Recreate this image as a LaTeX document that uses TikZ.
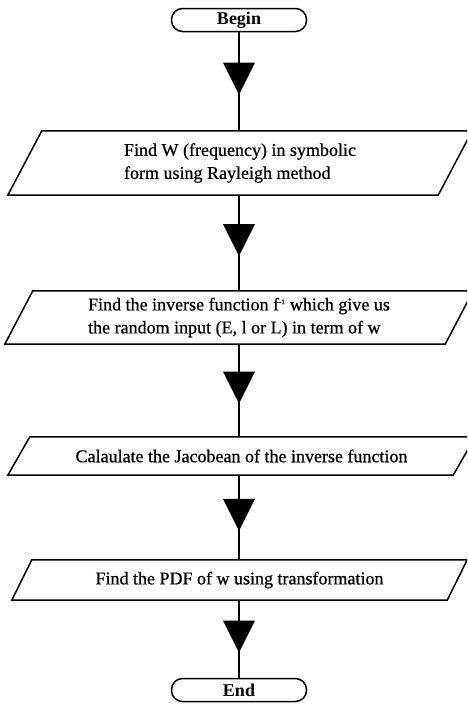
\documentclass[tikz,border=0pt]{standalone}
\usepackage{fontspec}
\setmainfont{Liberation Serif}
\newfontfamily\heavyserif[FakeBold=0.7]{Liberation Serif}
\usetikzlibrary{calc,decorations.markings}
\newcommand\drawpara[2]{\draw[edge] ($(#1.south west)+(-#2/2,0)$) -- ($(#1.south east)+(-#2/2,0)$) -- ($(#1.north east)+(#2/2,0)$) -- ($(#1.north west)+(#2/2,0)$) -- cycle;}
\begin{document}
\begin{tikzpicture}[x=1pt,y=-1pt,
  edge/.style={line width=1.5pt, line join=miter},
  term/.style={draw, line width=1.5pt, rounded corners=11pt, minimum width=135pt, minimum height=23pt, inner sep=0pt, font=\fontsize{18}{20}\selectfont\bfseries},
  pnode/.style={inner sep=0pt, align=left, font=\heavyserif\fontsize{18}{23}\selectfont},
  midarrow/.style={postaction={decorate}, decoration={markings, mark=at position 0.47 with {\fill (16pt,0) -- (-16pt,16pt) -- (-16pt,-16pt) -- cycle;}}},
  flow/.style={line width=1.5pt, midarrow}]
\clip (0,0) rectangle (467,710);
\fill[white] (0,0) rectangle (467,710);
\node[term] (begin) at (239,20) {Begin};
\node[pnode, minimum width=430pt, minimum height=64pt] (p1) at (240,163) {Find W (frequency) in symbolic\\form using Rayleigh method};
\node[pnode, minimum width=440pt, minimum height=53pt] (p2) at (239,317.5) {Find the inverse function f\textsuperscript{\fontsize{7}{7}\selectfont -1} which give us\\the random input (E, l or L) in term of w};
\node[pnode, minimum width=445pt, minimum height=38pt] (p3) at (241.5,456) {Calaulate the Jacobean of the inverse function};
\node[pnode, minimum width=435pt, minimum height=40pt] (p4) at (239.5,580) {Find the PDF of w using transformation};
\node[term] (end) at (239,690) {End};
\drawpara{p1}{34}
\drawpara{p2}{28}
\drawpara{p3}{22}
\drawpara{p4}{20}
\draw[flow] (begin.south) -- (begin.south |- p1.north);
\draw[flow] (begin.south |- p1.south) -- (begin.south |- p2.north);
\draw[flow] (begin.south |- p2.south) -- (begin.south |- p3.north);
\draw[flow] (begin.south |- p3.south) -- (begin.south |- p4.north);
\draw[flow] (begin.south |- p4.south) -- (end.north);
\end{tikzpicture}
\end{document}
